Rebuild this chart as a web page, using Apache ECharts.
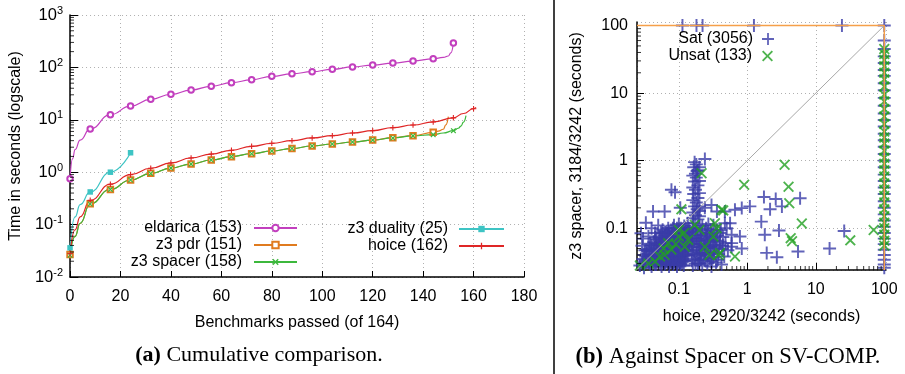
<!DOCTYPE html>
<html>
<head>
<meta charset="utf-8">
<script src="https://cdn.jsdelivr.net/npm/echarts@6/dist/echarts.min.js"></script>
<style>
  html, body { margin: 0; padding: 0; background: #fff; }
  #chart { width: 905px; height: 374px; }
</style>
</head>
<body>
<div id="chart"></div>
<script>
// ---- left plot: cumulative time per tool (markers every 8 benchmarks) ----
const eldaricaX = [0, 1, 2, 4, 8, 16, 24, 32, 40, 48, 56, 64, 72, 80, 88, 96, 104, 112, 120, 128, 136, 144, 148, 150, 151, 152];
const eldaricaY = [0.75, 1.8, 2.7, 4.1, 6.7, 12.5, 18.3, 24.6, 30.6, 37, 43.6, 51, 58, 67.6, 75.5, 82.8, 92, 102, 111, 121, 132, 146, 155, 165, 190, 292];
const pdrX = [0, 2, 4, 8, 16, 24, 32, 40, 48, 56, 64, 72, 80, 88, 96, 104, 112, 120, 128, 136, 144, 146, 148, 149, 150];
const pdrY = [0.027, 0.06, 0.105, 0.25, 0.47, 0.71, 0.95, 1.2, 1.43, 1.71, 1.98, 2.25, 2.54, 2.83, 3.16, 3.45, 3.77, 4.1, 4.55, 4.98, 5.76, 6.1, 6.6, 8.0, 11.5];
const spacerX = [0, 2, 4, 8, 16, 24, 32, 40, 48, 56, 64, 72, 80, 88, 96, 104, 112, 120, 128, 136, 144, 148, 152, 154, 155, 156, 157];
const spacerY = [0.026, 0.059, 0.106, 0.247, 0.47, 0.71, 0.94, 1.2, 1.43, 1.71, 1.98, 2.25, 2.54, 2.83, 3.16, 3.45, 3.77, 4.1, 4.5, 4.95, 5.2, 5.6, 6.2, 6.9, 7.6, 9.0, 12.0];
const dualityX = [0, 2, 4, 8, 16, 24];
const dualityY = [0.036, 0.14, 0.24, 0.42, 1.0, 2.35];
const hoiceX = [0, 2, 4, 8, 16, 24, 32, 40, 48, 56, 64, 72, 80, 88, 96, 104, 112, 120, 128, 136, 144, 152, 156, 160, 161];
const hoiceY = [0.028, 0.079, 0.14, 0.29, 0.59, 0.9, 1.19, 1.5, 1.87, 2.22, 2.62, 3.12, 3.56, 4.0, 4.5, 4.98, 5.6, 6.2, 7.07, 7.95, 9.1, 10.9, 13.2, 16.3, 17.2];

const leftMinorTicks = [0.02, 0.03, 0.04, 0.05, 0.06, 0.07, 0.08, 0.09, 0.2, 0.3, 0.4, 0.5, 0.6, 0.7, 0.8, 0.9,
  2, 3, 4, 5, 6, 7, 8, 9, 20, 30, 40, 50, 60, 70, 80, 90, 200, 300, 400, 500, 600, 700, 800, 900];

// ---- right plot: hoice time (x) vs z3 spacer time (y) ----
const satPoints = [
  [0.113, 100], [0.181, 100], [0.222, 100], [1.25, 100], [24.1, 100], [100, 100],
  [0.24, 1.06], [0.17, 0.95], [0.18, 0.88], [0.165, 0.8], [0.19, 0.72], [0.175, 0.64], [0.18, 0.56], [0.17, 0.49],
  [0.19, 0.43], [0.175, 0.37], [0.165, 0.32], [0.19, 0.28], [0.18, 0.24], [0.17, 0.21], [0.2, 0.18], [0.175, 0.155],
  [0.19, 0.135], [0.165, 0.118],
  [0.16, 0.14], [0.2, 0.15], [0.16, 0.17], [0.2, 0.21], [0.185, 0.19], [0.16, 0.26], [0.2, 0.33], [0.16, 0.4],
  [0.2, 0.5], [0.16, 0.6], [0.2, 0.8], [0.185, 0.7],
  [0.078, 0.37], [0.088, 0.34], [0.042, 0.176], [0.062, 0.176], [0.105, 0.2], [0.033, 0.12], [0.04, 0.1], [0.05, 0.11],
  [0.045, 0.085], [0.058, 0.095], [0.036, 0.075], [0.028, 0.084], [0.03, 0.07], [0.029, 0.055], [0.032, 0.047],
  [0.24, 0.2], [0.3, 0.22], [0.36, 0.176], [0.47, 0.176], [0.66, 0.187], [0.83, 0.198], [1.09, 0.21],
  [0.59, 0.08], [0.78, 0.075], [0.59, 0.06], [0.83, 0.05], [0.56, 0.118], [0.59, 0.053],
  [1.75, 0.29], [2.6, 0.27], [3.2, 0.21], [2.15, 0.19], [5.9, 0.277], [1.6, 0.125], [1.8, 0.08], [2.9, 0.092],
  [1.92, 0.043], [2.7, 0.037], [5.5, 0.045], [15.9, 0.05], [26, 0.091],
  // dense cluster, fast on both
  [0.027, 0.028], [0.031, 0.026], [0.033, 0.031], [0.04, 0.027], [0.047, 0.029], [0.056, 0.027], [0.063, 0.03],
  [0.072, 0.027], [0.082, 0.029], [0.094, 0.027], [0.105, 0.03], [0.118, 0.028],
  [0.029, 0.031], [0.036, 0.031], [0.043, 0.031], [0.051, 0.031], [0.059, 0.031], [0.068, 0.031], [0.077, 0.031],
  [0.088, 0.031], [0.1, 0.031], [0.112, 0.031],
  [0.03, 0.035], [0.037, 0.033], [0.045, 0.036], [0.052, 0.034], [0.06, 0.037], [0.07, 0.034], [0.08, 0.036],
  [0.09, 0.034], [0.1, 0.037], [0.113, 0.035], [0.125, 0.033],
  [0.033, 0.038], [0.041, 0.038], [0.048, 0.038], [0.056, 0.038], [0.065, 0.038], [0.075, 0.038], [0.085, 0.038],
  [0.095, 0.038], [0.107, 0.038], [0.12, 0.038],
  [0.034, 0.042], [0.041, 0.04], [0.049, 0.043], [0.058, 0.041], [0.066, 0.044], [0.076, 0.042], [0.087, 0.045],
  [0.097, 0.041], [0.11, 0.044], [0.122, 0.042], [0.135, 0.04],
  [0.036, 0.046], [0.043, 0.046], [0.051, 0.046], [0.06, 0.046], [0.069, 0.046], [0.079, 0.046], [0.09, 0.046],
  [0.1, 0.046], [0.113, 0.046], [0.127, 0.046],
  [0.037, 0.05], [0.045, 0.052], [0.053, 0.049], [0.062, 0.053], [0.07, 0.05], [0.081, 0.054], [0.092, 0.05],
  [0.104, 0.053], [0.117, 0.05], [0.13, 0.055],
  [0.04, 0.056], [0.048, 0.056], [0.057, 0.056], [0.065, 0.056], [0.074, 0.056], [0.084, 0.056], [0.095, 0.056],
  [0.106, 0.056], [0.12, 0.056], [0.135, 0.056],
  [0.043, 0.062], [0.051, 0.06], [0.06, 0.064], [0.068, 0.061], [0.078, 0.065], [0.088, 0.062], [0.099, 0.066],
  [0.11, 0.062], [0.125, 0.066], [0.14, 0.063],
  [0.047, 0.068], [0.056, 0.068], [0.065, 0.068], [0.075, 0.068], [0.085, 0.068], [0.096, 0.068], [0.108, 0.068],
  [0.122, 0.068], [0.138, 0.068],
  [0.052, 0.075], [0.062, 0.078], [0.072, 0.074], [0.083, 0.079], [0.095, 0.076], [0.108, 0.08], [0.12, 0.075], [0.135, 0.078],
  [0.058, 0.083], [0.068, 0.083], [0.079, 0.083], [0.09, 0.083], [0.103, 0.083], [0.117, 0.083], [0.13, 0.083],
  [0.066, 0.09], [0.077, 0.094], [0.09, 0.09], [0.1, 0.096], [0.115, 0.092], [0.13, 0.097], [0.145, 0.09],
  [0.085, 0.11], [0.1, 0.115], [0.12, 0.108], [0.135, 0.118],
  [0.03, 0.029], [0.038, 0.029], [0.045, 0.029], [0.054, 0.029], [0.062, 0.029], [0.072, 0.029], [0.082, 0.029],
  [0.094, 0.029], [0.106, 0.029],
  [0.032, 0.033], [0.04, 0.033], [0.048, 0.033], [0.056, 0.033], [0.065, 0.033], [0.074, 0.033], [0.085, 0.033],
  [0.096, 0.033], [0.108, 0.033], [0.12, 0.033],
  [0.031, 0.04], [0.038, 0.04], [0.045, 0.04], [0.053, 0.04], [0.062, 0.04], [0.071, 0.04], [0.081, 0.04],
  [0.092, 0.04], [0.104, 0.04], [0.116, 0.04], [0.13, 0.04],
  [0.034, 0.048], [0.04, 0.048], [0.048, 0.048], [0.056, 0.048], [0.065, 0.048], [0.074, 0.048], [0.085, 0.048],
  [0.096, 0.048], [0.108, 0.048], [0.121, 0.048], [0.137, 0.048],
  [0.038, 0.059], [0.046, 0.059], [0.054, 0.059], [0.062, 0.059], [0.071, 0.059], [0.081, 0.059], [0.092, 0.059],
  [0.104, 0.059], [0.117, 0.059], [0.131, 0.059], [0.145, 0.059],
  [0.045, 0.072], [0.053, 0.072], [0.061, 0.072], [0.07, 0.072], [0.08, 0.072], [0.09, 0.072], [0.102, 0.072],
  [0.115, 0.072], [0.129, 0.072], [0.143, 0.072],
  [0.055, 0.087], [0.063, 0.087], [0.072, 0.087], [0.084, 0.087], [0.095, 0.087], [0.108, 0.087], [0.122, 0.087], [0.138, 0.087],
  [0.07, 0.1], [0.082, 0.1], [0.094, 0.1], [0.107, 0.1], [0.125, 0.1], [0.14, 0.1],
  // second cluster around 0.2 s
  [0.16, 0.028], [0.19, 0.03], [0.17, 0.035], [0.2, 0.038], [0.165, 0.042], [0.185, 0.047], [0.16, 0.052],
  [0.195, 0.058], [0.17, 0.064], [0.185, 0.07], [0.16, 0.078], [0.195, 0.085], [0.175, 0.093], [0.16, 0.1],
  [0.22, 0.028], [0.26, 0.03], [0.3, 0.027], [0.35, 0.031], [0.42, 0.029],
  [0.23, 0.036], [0.27, 0.04], [0.32, 0.037], [0.38, 0.041], [0.46, 0.038],
  [0.22, 0.047], [0.26, 0.05], [0.31, 0.046], [0.36, 0.052], [0.43, 0.049], [0.52, 0.047],
  [0.23, 0.058], [0.28, 0.062], [0.33, 0.057], [0.4, 0.063], [0.48, 0.06],
  [0.22, 0.072], [0.26, 0.077], [0.31, 0.071], [0.37, 0.078], [0.44, 0.074],
  [0.24, 0.09], [0.29, 0.095], [0.34, 0.088], [0.41, 0.093], [0.5, 0.1],
  [0.22, 0.108], [0.27, 0.115], [0.32, 0.11], [0.47, 0.118],
  [0.2, 0.03], [0.24, 0.033], [0.28, 0.035], [0.2, 0.043], [0.24, 0.044], [0.29, 0.043], [0.2, 0.052], [0.24, 0.055],
  [0.29, 0.053], [0.2, 0.065], [0.25, 0.066], [0.29, 0.067], [0.21, 0.08], [0.26, 0.085], [0.3, 0.082], [0.21, 0.095],
  [0.35, 0.065], [0.33, 0.043],
  [0.155, 0.033], [0.175, 0.03], [0.21, 0.034], [0.155, 0.045], [0.18, 0.04], [0.21, 0.041], [0.155, 0.06],
  [0.18, 0.055], [0.21, 0.058], [0.155, 0.07], [0.18, 0.078], [0.21, 0.07], [0.155, 0.088], [0.18, 0.1], [0.2, 0.11],
  [0.25, 0.042], [0.27, 0.055], [0.25, 0.1], [0.28, 0.075], [0.32, 0.065], [0.34, 0.05], [0.3, 0.032], [0.39, 0.056],
  [0.37, 0.034], [0.44, 0.055], [0.4, 0.085], [0.36, 0.095],
  // hoice timeouts (x = 100)
  [100, 60], [100, 45], [100, 35], [100, 28], [100, 22], [100, 18], [100, 14], [100, 11], [100, 8.5], [100, 6.5],
  [100, 5], [100, 4], [100, 3.2], [100, 2.5], [100, 2], [100, 1.6], [100, 1.25], [100, 1], [100, 0.8], [100, 0.62],
  [100, 0.5], [100, 0.4], [100, 0.32], [100, 0.25], [100, 0.2], [100, 0.16], [100, 0.13], [100, 0.105], [100, 0.085],
  [100, 0.07], [100, 0.058], [100, 0.048], [100, 0.04], [100, 0.034], [100, 0.029], [100, 0.026]
];
const unsatPoints = [
  [0.027, 0.028], [0.036, 0.03], [0.045, 0.032], [0.053, 0.038], [0.062, 0.04], [0.078, 0.048], [0.07, 0.06],
  [0.1, 0.075], [0.137, 0.067], [0.1, 0.094], [0.122, 0.053], [0.109, 0.19], [0.06, 0.05], [0.09, 0.058], [0.12, 0.085],
  [0.171, 0.112], [0.2, 0.094], [0.32, 0.075], [0.357, 0.1], [0.336, 0.118], [0.38, 0.04], [0.66, 0.038], [0.24, 0.053],
  [0.28, 0.04], [0.4, 0.043], [0.445, 0.183], [0.42, 0.187], [0.215, 0.65], [0.9, 0.44],
  [3.5, 0.87], [4.0, 0.41], [4.1, 0.234], [6.25, 0.117], [4.3, 0.071], [4.5, 0.064], [31.9, 0.066], [70, 0.094],
  [100, 45], [100, 38], [100, 31], [100, 25], [100, 20], [100, 16], [100, 12.5], [100, 9.5], [100, 7.5], [100, 5.8],
  [100, 4.5], [100, 3.5], [100, 2.7], [100, 2.2], [100, 1.8], [100, 1.4], [100, 1.1], [100, 0.9], [100, 0.72],
  [100, 0.58], [100, 0.46], [100, 0.37], [100, 0.3], [100, 0.24], [100, 0.19], [100, 0.15], [100, 0.12], [100, 0.1],
  [100, 0.08], [100, 0.065], [100, 0.055]
];
const timeout = 100;
const rightMin = 0.0245;
const rightMinorTicks = [0.03, 0.04, 0.05, 0.06, 0.07, 0.08, 0.09, 0.2, 0.3, 0.4, 0.5, 0.6, 0.7, 0.8, 0.9,
  2, 3, 4, 5, 6, 7, 8, 9, 20, 30, 40, 50, 60, 70, 80, 90];

const sans = 'Liberation Sans';
const serif = 'Liberation Serif';
const PLUS_THICK = 'path://M4,0H6V4H10V6H6V10H4V6H0V4H4Z';
const CROSS_THICK = 'path://M0,1.5L1.5,0L5,3.5L8.5,0L10,1.5L6.5,5L10,8.5L8.5,10L5,6.5L1.5,10L0,8.5L3.5,5Z';
const PLUS = 'path://M4.25,0H5.75V4.25H10V5.75H5.75V10H4.25V5.75H0V4.25H4.25Z';
const CROSS = 'path://M0,1.2L1.2,0L5,3.8L8.8,0L10,1.2L6.2,5L10,8.8L8.8,10L5,6.2L1.2,10L0,8.8L3.8,5Z';

const chart = echarts.init(document.getElementById('chart'));

// points every 8 benchmarks get a marker, the rest only shape the curve
function curve(xs, ys) {
  return xs.map((x, i) => x % 8 === 0 ? [x, ys[i]] : { value: [x, ys[i]], symbol: 'none' });
}

function lineSeries(name, color, symbol, xs, ys) {
  return {
    name,
    type: 'line',
    xAxisIndex: 0,
    yAxisIndex: 0,
    data: curve(xs, ys),
    smooth: 0.5,
    smoothMonotone: 'x',
    showAllSymbol: true,
    symbol,
    symbolSize: 5.5,
    color,
    itemStyle: { color, borderWidth: 1 },
    lineStyle: { color, width: 1.2 },
  };
}

function tickSeries(xi, yi, pts, size, offset) {
  return {
    type: 'scatter',
    xAxisIndex: xi,
    yAxisIndex: yi,
    data: pts,
    symbol: 'rect',
    symbolSize: size,
    symbolOffset: offset,
    itemStyle: { color: '#000' },
    silent: true,
    clip: false,
    z: 5,
  };
}

function legendItem(name, right, cy, width, height, gap) {
  return {
    data: [name],
    right,
    top: cy - 8,
    align: 'right',
    orient: 'vertical',
    itemWidth: width,
    itemHeight: height,
    padding: 0,
    selectedMode: false,
    textStyle: { fontSize: 16, fontFamily: sans, color: '#000', lineHeight: 16, padding: [0, gap, 0, 0] },
  };
}

const axisText = { fontSize: 16, fontFamily: sans, color: '#000' };
const gridLine = { show: true, lineStyle: { color: '#b0b0b0', type: [1, 3], width: 1 } };

chart.setOption({
  animation: false,
  grid: [
    { left: 66, top: 15, width: 458, height: 262 },
    { left: 637, top: 22, width: 249, height: 248 },
  ],
  legend: [
    legendItem('eldarica (153)', 607, 228, 43, 8, 7),
    legendItem('z3 pdr (151)', 607, 245, 43, 8, 7),
    legendItem('z3 spacer (158)', 607, 262, 43, 8, 7),
    legendItem('z3 duality (25)', 400, 229, 45, 8, 6),
    legendItem('hoice (162)', 400, 246, 45, 8, 6),
    legendItem('Sat (3056)', 131, 39, 12, 12, 4),
    legendItem('Unsat (133)', 132, 56, 11, 11, 5),
  ],
  xAxis: [
    {
      gridIndex: 0,
      type: 'value',
      min: 0,
      max: 180,
      interval: 20,
      name: 'Benchmarks passed (of 164)',
      nameLocation: 'middle',
      nameGap: 38,
      nameTextStyle: axisText,
      axisLine: { lineStyle: { color: '#000', width: 1.5 } },
      axisTick: { inside: true, length: 6, lineStyle: { color: '#000' } },
      axisLabel: Object.assign({ margin: 12 }, axisText),
      splitLine: gridLine,
    },
    {
      gridIndex: 1,
      type: 'log',
      logBase: 10,
      min: rightMin,
      max: 106,
      name: 'hoice, 2920/3242 (seconds)',
      nameLocation: 'middle',
      nameGap: 39,
      nameTextStyle: axisText,
      axisLine: { lineStyle: { color: '#000', width: 1.5 } },
      axisTick: { inside: true, length: 7, lineStyle: { color: '#000' } },
      axisLabel: Object.assign({ margin: 12, showMinLabel: false, showMaxLabel: false }, axisText),
      splitLine: gridLine,
    },
  ],
  yAxis: [
    {
      gridIndex: 0,
      type: 'log',
      logBase: 10,
      min: 0.01,
      max: 1000,
      name: 'Time in seconds (logscale)',
      nameLocation: 'middle',
      nameGap: 44,
      nameTextStyle: axisText,
      axisLine: { show: true, lineStyle: { color: '#000', width: 1.5 } },
      axisTick: { show: true, inside: true, length: 8, lineStyle: { color: '#000' } },
      axisLabel: {
        margin: 7,
        formatter: (v) => '{n|10}{e|' + Math.round(Math.log10(v)) + '}',
        rich: {
          n: { fontSize: 16.5, fontFamily: sans, color: '#000' },
          e: { fontSize: 11, fontFamily: sans, color: '#000', padding: [0, 0, 9, 0] },
        },
      },
      splitLine: gridLine,
    },
    {
      gridIndex: 1,
      type: 'log',
      logBase: 10,
      min: 0.024,
      max: 113,
      name: 'z3 spacer, 3184/3242 (seconds)',
      nameLocation: 'middle',
      nameGap: 52,
      nameTextStyle: axisText,
      axisLine: { show: true, lineStyle: { color: '#000', width: 1.5 } },
      axisTick: { show: true, inside: true, length: 7, lineStyle: { color: '#000' } },
      axisLabel: Object.assign({ margin: 9, showMinLabel: false, showMaxLabel: false }, axisText),
      splitLine: gridLine,
    },
  ],
  series: [
    lineSeries('eldarica (153)', '#c23fbe', 'emptyCircle', eldaricaX, eldaricaY),
    lineSeries('z3 pdr (151)', '#e07b1f', 'emptyRect', pdrX, pdrY),
    lineSeries('z3 spacer (158)', '#3cb83c', CROSS_THICK, spacerX, spacerY),
    lineSeries('z3 duality (25)', '#3ec4c4', 'rect', dualityX, dualityY),
    lineSeries('hoice (162)', '#df2626', PLUS_THICK, hoiceX, hoiceY),
    tickSeries(0, 0, leftMinorTicks.map((v) => [0, v]), [4, 1], [2, 0]),

    // y = x reference and timeout borders
    {
      type: 'line',
      xAxisIndex: 1,
      yAxisIndex: 1,
      data: [[0.024, 0.024], [timeout, timeout]],
      symbol: 'none',
      silent: true,
      lineStyle: { color: '#a8a8a8', width: 1 },
    },
    {
      type: 'line',
      xAxisIndex: 1,
      yAxisIndex: 1,
      data: [[rightMin, timeout], [timeout, timeout], [timeout, 0.024]],
      symbol: 'none',
      silent: true,
      lineStyle: { color: '#f5a04a', width: 1.5 },
    },
    {
      name: 'Sat (3056)',
      type: 'scatter',
      xAxisIndex: 1,
      yAxisIndex: 1,
      data: satPoints,
      symbol: PLUS,
      symbolSize: 13,
      clip: false,
      large: false,
      itemStyle: { color: '#3a3ca8' },
    },
    {
      name: 'Unsat (133)',
      type: 'scatter',
      xAxisIndex: 1,
      yAxisIndex: 1,
      data: unsatPoints,
      symbol: CROSS,
      symbolSize: 11,
      clip: false,
      itemStyle: { color: '#22a022' },
    },
    tickSeries(1, 1, rightMinorTicks.map((v) => [v, 0.024]), [1, 4], [0, -2]),
    tickSeries(1, 1, rightMinorTicks.map((v) => [rightMin, v]), [4, 1], [2, 0]),
  ],
  graphic: [
    { type: 'line', shape: { x1: 554, y1: 0, x2: 554, y2: 374 }, style: { stroke: '#000', lineWidth: 1.5 } },
    {
      type: 'text', x: 259, y: 355,
      style: {
        text: '{b|(a)} Cumulative comparison.',
        fontSize: 22, fontFamily: serif, fill: '#000', align: 'center', verticalAlign: 'middle',
        rich: { b: { fontSize: 22, fontFamily: serif, fontWeight: 'bold', fill: '#000' } },
      },
    },
    {
      type: 'text', x: 728, y: 357,
      style: {
        text: '{b|(b)} Against Spacer on SV-COMP.',
        fontSize: 22.5, fontFamily: serif, fill: '#000', align: 'center', verticalAlign: 'middle',
        rich: { b: { fontSize: 22.5, fontFamily: serif, fontWeight: 'bold', fill: '#000' } },
      },
    },
  ],
});
</script>
</body>
</html>
